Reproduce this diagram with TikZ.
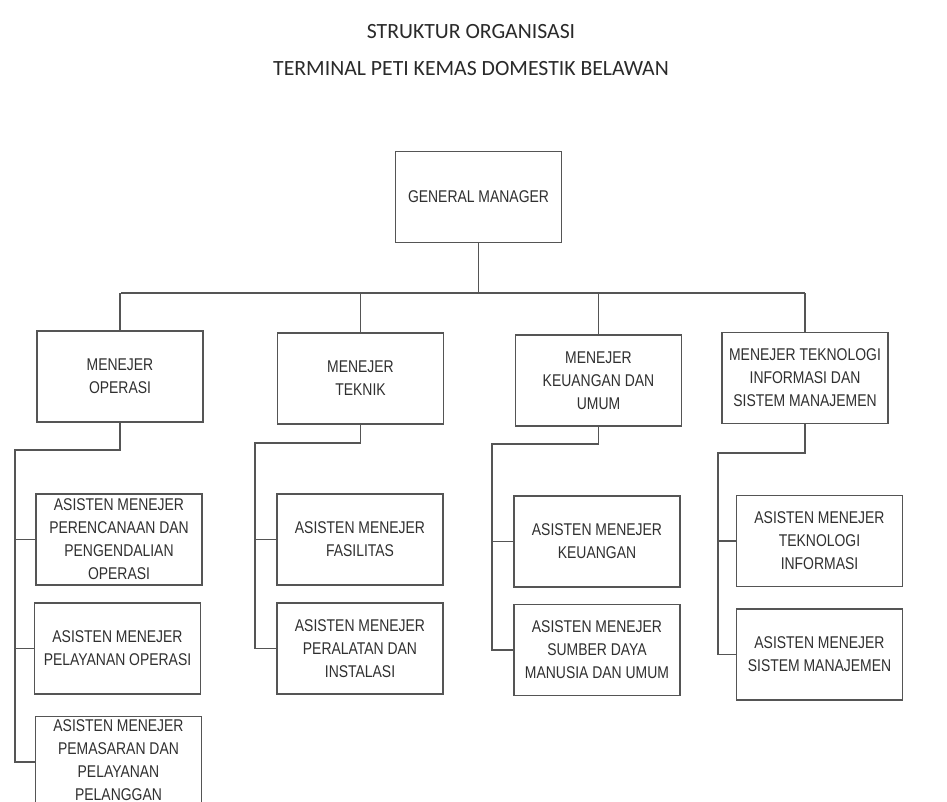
\documentclass[tikz,border=0pt]{standalone}
\usepackage{fontspec}
\setmainfont{Liberation Sans}[FakeStretch=0.82]
\newfontfamily\titlefont{Carlito}
\definecolor{linec}{HTML}{555555}
\definecolor{textc}{HTML}{303030}
\definecolor{titlec}{HTML}{2A2A2A}
\begin{document}
\begin{tikzpicture}[x=0.75pt,y=-0.75pt,
  box/.style={draw=linec,line width=1.1pt,text=textc,align=center,inner sep=0pt,
    minimum width=124.5pt,minimum height=68.5pt,
    font=\fontsize{12.75pt}{17.25pt}\selectfont},
  conn/.style={draw=linec,line width=1.1pt},
  ttl/.style={text=titlec,font=\titlefont\fontsize{16.3pt}{20pt}\selectfont,inner sep=0pt}]
\useasboundingbox (0,0) rectangle (947,802);
\clip (0,0) rectangle (947,802);
\fill[white] (0,0) rectangle (947,802);
\node[ttl] (t1) at (471,32) {STRUKTUR ORGANISASI};
\node[ttl] (t2) at (471,69) {TERMINAL PETI KEMAS DOMESTIK BELAWAN};

\node[box] (gm) at (478.5,197) {GENERAL MANAGER};

\node[box] (op) at (120,376.5) {MENEJER\\OPERASI};
\node[box] (tk) at (360.5,378.5) {MENEJER\\TEKNIK};
\node[box] (ku) at (598.5,380.5) {MENEJER\\KEUANGAN DAN\\UMUM};
\node[box] (ti) at (805,378) {MENEJER TEKNOLOGI\\INFORMASI DAN\\SISTEM MANAJEMEN};

\node[box] (op1) at (119,539.5) {ASISTEN MENEJER\\PERENCANAAN DAN\\PENGENDALIAN\\OPERASI};
\node[box] (op2) at (117.5,648.5) {ASISTEN MENEJER\\PELAYANAN OPERASI};
\node[box] (op3) at (118.5,762) {};
\node[text=textc,align=center,inner sep=0pt,font=\fontsize{12.75pt}{17.25pt}\selectfont,anchor=north]
  (op3t) at (118.5,719) {ASISTEN MENEJER\\PEMASARAN DAN\\PELAYANAN\\PELANGGAN};

\node[box] (tk1) at (360,539.5) {ASISTEN MENEJER\\FASILITAS};
\node[box] (tk2) at (360,648.5) {ASISTEN MENEJER\\PERALATAN DAN\\INSTALASI};

\node[box] (ku1) at (597,541.5) {ASISTEN MENEJER\\KEUANGAN};
\node[box] (ku2) at (597,650) {ASISTEN MENEJER\\SUMBER DAYA\\MANUSIA DAN UMUM};

\node[box] (ti1) at (819.5,541) {ASISTEN MENEJER\\TEKNOLOGI\\INFORMASI};
\node[box] (ti2) at (819.5,654.5) {ASISTEN MENEJER\\SISTEM MANAJEMEN};

% top bus
\coordinate (busL) at (121,293);
\coordinate (busR) at (805,293);
\draw[conn] (busL) -- (busR);
\draw[conn] (gm.south) -- (gm.south |- busL);
\draw[conn] (op.north) -- (op.north |- busL);
\draw[conn] (tk.north) -- (tk.north |- busL);
\draw[conn] (ku.north) -- (ku.north |- busL);
\draw[conn] (ti.north) -- (ti.north |- busL);

% sub trees
\coordinate (opb) at (15,450);
\coordinate (tkb) at (255,443);
\coordinate (kub) at (492,444);
\coordinate (tib) at (718,453);

\draw[conn] (op.south) |- (opb) -- (opb |- op3.west) -- (op3.west);
\draw[conn] (op1.west) -- (op1.west -| opb);
\draw[conn] (op2.west) -- (op2.west -| opb);

\draw[conn] (tk.south) |- (tkb) -- (tkb |- tk2.west) -- (tk2.west);
\draw[conn] (tk1.west) -- (tk1.west -| tkb);

\draw[conn] (ku.south) |- (kub) -- (kub |- ku2.west) -- (ku2.west);
\draw[conn] (ku1.west) -- (ku1.west -| kub);

\draw[conn] (ti.south) |- (tib) -- (tib |- ti2.west) -- (ti2.west);
\draw[conn] (ti1.west) -- (ti1.west -| tib);
\end{tikzpicture}
\end{document}
